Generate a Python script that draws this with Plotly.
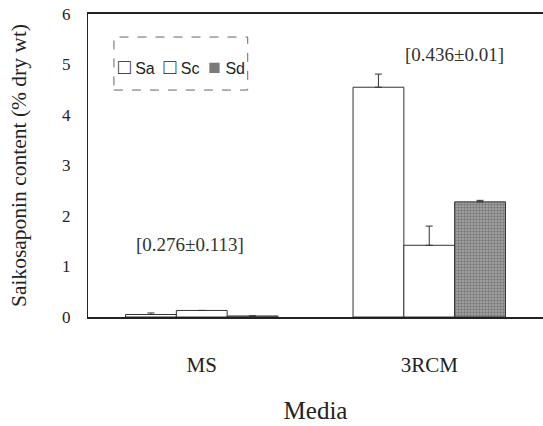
import plotly.graph_objects as go

media = ["MS", "3RCM"]
series = ["Sa", "Sc", "Sd"]
sa_vals = [0.05, 4.55]
sa_err = [0.03, 0.26]
sc_vals = [0.13, 1.42]
sc_err = [0.0, 0.38]
sd_vals = [0.02, 2.28]
sd_err = [0.0, 0.03]
notes = ["[0.276±0.113]", "[0.436±0.01]"]
note_y = [1.43, 5.19]
note_x = [-0.05, 1.11]

serif = "Liberation Serif, Times New Roman, serif"
narrow = "Liberation Sans Narrow, Arial Narrow, sans-serif"

fig = go.Figure()
colors = {"Sa": "white", "Sc": "white", "Sd": "#a0a0a0"}
vals = {"Sa": sa_vals, "Sc": sc_vals, "Sd": sd_vals}
errs = {"Sa": sa_err, "Sc": sc_err, "Sd": sd_err}
for s in series:
    marker = dict(color=colors[s], line=dict(color="#333333", width=1))
    if s == "Sd":
        marker["pattern"] = dict(shape=".", fgcolor="#4a4a4a", bgcolor="#a8a8a8", size=3, solidity=0.5)
    fig.add_trace(go.Bar(
        name=s, x=media, y=vals[s], showlegend=False,
        marker=marker,
        error_y=dict(type="data", array=errs[s], symmetric=False, arrayminus=[0, 0],
                     color="#333333", thickness=1, width=3.5),
    ))

for t, xx, yy in zip(notes, note_x, note_y):
    fig.add_annotation(x=xx, y=yy, xref="x", yref="y", text=t, showarrow=False,
                       font=dict(family=serif, size=19, color="#333333"))

# legend (key) drawn as text inside a dashed box
sq = "<span style='font-size:21px'>□</span>"
sq_dark = "<span style='font-size:21px;color:#7a7a7a'>■</span>"
legend_text = f"{sq} Sa&nbsp;&nbsp;{sq} Sc&nbsp;&nbsp;{sq_dark} Sd"
fig.add_annotation(x=0.061, y=0.828, xref="paper", yref="paper", xanchor="left", yanchor="middle",
                   text=legend_text, showarrow=False,
                   font=dict(family=narrow, size=16, color="#222222"))
fig.add_shape(type="rect", xref="paper", yref="paper",
              x0=0.057, x1=0.351, y0=0.749, y1=0.924,
              line=dict(color="#666666", width=1, dash="dash"))

fig.update_layout(
    width=543, height=426,
    margin=dict(l=88, r=0, t=14, b=109, autoexpand=False),
    plot_bgcolor="white", paper_bgcolor="white",
    barmode="group", bargap=0.33, bargroupgap=0,
    showlegend=False,
    font=dict(family=serif, color="#222222"),
    xaxis=dict(range=[-0.5, 1.5], showline=True, linecolor="#222222", linewidth=1.8,
               mirror=True, ticks="", ticklabelstandoff=28, automargin=False,
               tickfont=dict(family=serif, size=21),
               title=dict(text="Media", font=dict(family=serif, size=25), standoff=25)),
    yaxis=dict(range=[0, 6], dtick=1, showline=True, linecolor="#222222", linewidth=1,
               showgrid=False, zeroline=False, ticks="", ticklabelstandoff=13, automargin=False,
               ticklabeloverflow="allow",
               tickfont=dict(family=serif, size=17),
               title=dict(text="Saikosaponin content (% dry wt)", font=dict(family=serif, size=21.5), standoff=29)),
)

# remove the page's default body margin so the figure fills the window exactly
fig.write_html("out.html", config={"displayModeBar": False},
               post_script="document.body.style.margin='0';")
